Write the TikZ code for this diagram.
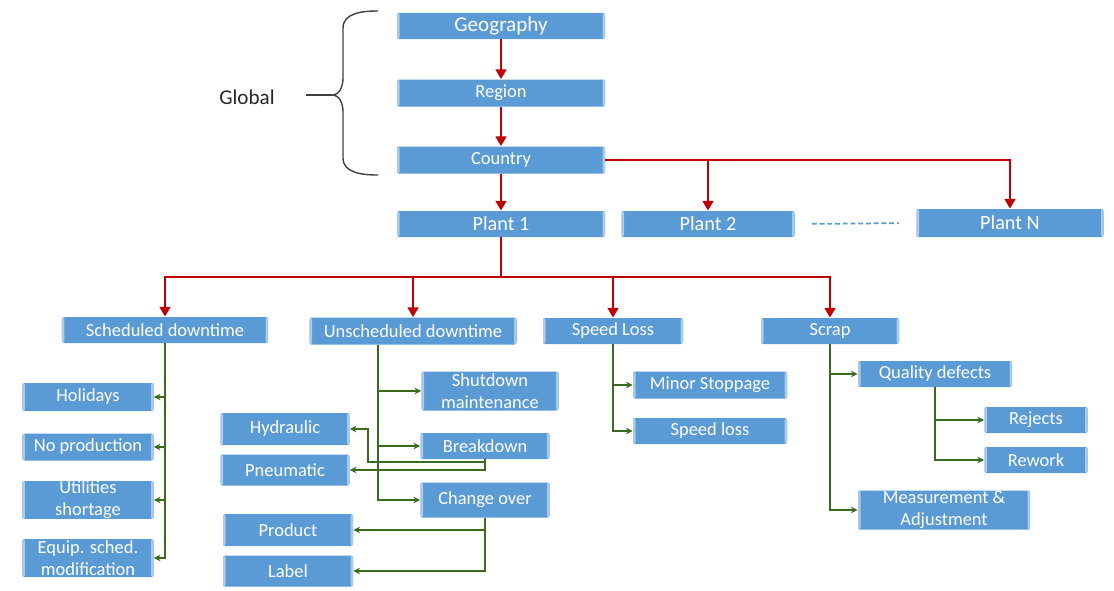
\documentclass[tikz,border=0pt]{standalone}
\usepackage{fontspec}
\setmainfont{Carlito}
\usetikzlibrary{arrows.meta}
\definecolor{boxblue}{HTML}{5B9BD5}
\definecolor{boxedge}{HTML}{A9CAE9}
\definecolor{treered}{HTML}{C00000}
\definecolor{treegreen}{HTML}{3A6A1E}
\definecolor{bracegray}{HTML}{404040}
\tikzset{
  lossnode/.style={rectangle, rounded corners=0.4mm, fill=boxblue, text=white,
    inner sep=0pt, align=center, font=\fontsize{10.5}{12.5}\selectfont,
    path picture={
      \fill[boxedge] (path picture bounding box.north west) rectangle ([xshift=0.5mm]path picture bounding box.south west);
      \fill[boxedge] (path picture bounding box.north east) rectangle ([xshift=-0.5mm]path picture bounding box.south east);}},
  redlink/.style={draw=treered, line width=1.6pt, -{Triangle[width=6pt,length=5.5pt]}},
  feedlink/.style={draw=treegreen, line width=1pt, -{Stealth[width=3.8pt,length=3.8pt]}}
}
\newcommand{\lossbox}[5] {\node at (#1) (#2) [lossnode, minimum width=#3, minimum height=#4] {#5};}
\newcommand{\feed}[2] {\draw [feedlink] (#1) |- (#2);}

\begin{document}
\begin{tikzpicture}[x=0.2mm, y=-0.2mm]
\useasboundingbox (0,0) rectangle (1114,591);

% global levels
\lossbox {501,26} {geo} {41.6mm} {5.2mm} {\fontsize{12}{14}\selectfont Geography}
\lossbox {501,93} {region} {41.6mm} {5.4mm} {Region}
\lossbox {501,160} {country} {41.6mm} {5.4mm} {Country}
\lossbox {501,224} {plant1} {41.6mm} {5.2mm} {\fontsize{11.5}{13}\selectfont Plant 1}
\lossbox {708,224} {plant2} {34.6mm} {5.2mm} {\fontsize{11.5}{13}\selectfont Plant 2}
\lossbox {1010,223} {plantN} {37.4mm} {5.6mm} {\fontsize{11.5}{13}\selectfont Plant N}

\node at (247,97) (global) [text=black!85, font=\fontsize{12}{14}\selectfont] {Global};
\draw [bracegray, line width=0.8pt] (378,11) to[out=180, in=90] (343,28) -- (343,78)
  to[out=-90, in=0] (332,95) to[out=0, in=90] (343,112) -- (343,158) to[out=-90, in=180] (378,175);
\coordinate (bracetip) at (332,95);
\draw [bracegray, line width=0.8pt] (bracetip) -- ++(-26,0);

\draw [boxblue, line width=1pt, dash pattern=on 2.8pt off 1.6pt, shorten <=3.4mm, shorten >=3.4mm] (plant2.east) -- (plantN.west);

% loss categories
\lossbox {165,330} {sched} {41.2mm} {5.2mm} {Scheduled downtime}
\lossbox {413,331} {unsched} {41.4mm} {5.4mm} {Unscheduled downtime}
\lossbox {613,331} {speed} {28mm} {5.2mm} {Speed Loss}
\lossbox {830,331} {scrap} {27.6mm} {5.2mm} {Scrap}

\lossbox {88,397} {holidays} {26.2mm} {5.6mm} {Holidays}
\lossbox {88,447} {noprod} {26.2mm} {5.4mm} {No production}
\lossbox {88,500} {utilities} {26.2mm} {7.2mm} {Utilities\\shortage}
\lossbox {88,558} {equip} {26.2mm} {7.6mm} {Equip. sched.\\modification}

\lossbox {490,391} {shutdown} {27.4mm} {7.8mm} {Shutdown\\maintenance}
\lossbox {485,446} {breakdown} {25.8mm} {5.2mm} {Breakdown}
\lossbox {485,500} {changeover} {25.8mm} {7mm} {Change over}
\lossbox {285,429} {hydraulic} {25.8mm} {6.4mm} {Hydraulic}
\lossbox {285,470} {pneumatic} {25.8mm} {6.2mm} {Pneumatic}
\lossbox {288,530} {product} {26mm} {6.4mm} {Product}
\lossbox {288,571} {lbl} {26mm} {6.2mm} {Label}

\lossbox {710,385} {minor} {30.8mm} {5.4mm} {Minor Stoppage}
\lossbox {710,431} {slow} {30.8mm} {5.2mm} {Speed loss}

\lossbox {935,374} {quality} {30.8mm} {5.2mm} {Quality defects}
\lossbox {1036,420} {rejects} {20.6mm} {5.2mm} {Rejects}
\lossbox {1036,460} {rework} {20.6mm} {5.2mm} {Rework}
\lossbox {944,510} {measure} {34.4mm} {7.8mm} {Measurement \&\\Adjustment}

% red tree
\draw [redlink] (geo) -- (region);
\draw [redlink] (region) -- (country);
\draw [redlink] (country) -- (plant1);
\draw [redlink] (country.east) -| (plant2.north);
\draw [redlink] (country.east) -| (plantN.north);
\coordinate (plantbar) at (501,277);
\foreach \n in {sched,unsched,speed,scrap}
  \draw [redlink] (plant1.south) -- (plantbar) -| (\n.north);

% green feeds
\foreach \n in {holidays,noprod,utilities,equip} {\feed {sched.south} {\n.east}}
\coordinate (ut) at (378,0);
\foreach \n in {shutdown,breakdown,changeover} {\feed {unsched.south -| ut} {\n.west}}
\coordinate (hk) at (368,0);
\draw [feedlink] (breakdown.south) -- ++(0,3) -| (hk |- hydraulic.east) -- (hydraulic.east);
\feed {breakdown.south} {pneumatic.east}
\foreach \n in {product,lbl} {\feed {changeover.south} {\n.east}}
\foreach \n in {minor,slow} {\feed {speed.south} {\n.west}}
\foreach \n in {quality,measure} {\feed {scrap.south} {\n.west}}
\foreach \n in {rejects,rework} {\feed {quality.south} {\n.west}}

\end{tikzpicture}
\end{document}
